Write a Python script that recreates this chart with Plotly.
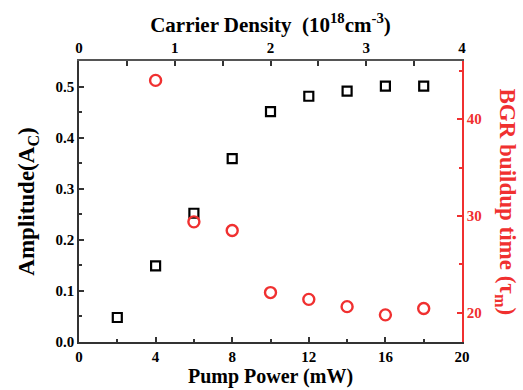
import plotly.graph_objects as go

pump_power = [2, 4, 6, 8, 10, 12, 14, 16, 18]
amplitude = [0.048, 0.149, 0.252, 0.359, 0.451, 0.481, 0.491, 0.501, 0.501]
bgr_power = [4, 6, 8, 10, 12, 14, 16, 18]
bgr_time = [44.0, 29.4, 28.5, 22.1, 21.4, 20.65, 19.8, 20.45]
density_ticks = [0, 1, 2, 3, 4]
pump_ticks = [0, 4, 8, 12, 16, 20]
amp_ticks = [0.0, 0.1, 0.2, 0.3, 0.4, 0.5]
bgr_ticks = [20, 30, 40]

RED = "#f03030"
FONT = "Liberation Serif"

fig = go.Figure()
fig.add_trace(go.Scatter(
    x=pump_power, y=amplitude, mode="markers",
    marker=dict(symbol="square-open", size=9, color="black", line=dict(width=2.2, color="black")),
    xaxis="x", yaxis="y", showlegend=False))
fig.add_trace(go.Scatter(
    x=bgr_power, y=bgr_time, mode="markers",
    marker=dict(symbol="circle-open", size=11, color=RED, line=dict(width=2.4, color=RED)),
    xaxis="x", yaxis="y2", showlegend=False))
fig.add_trace(go.Scatter(x=[0, 4], y=[0, 0], mode="markers", marker=dict(opacity=0),
                         xaxis="x2", yaxis="y", showlegend=False, hoverinfo="skip"))

def b(v, fmt):
    return ["<b>" + fmt.format(t) + "</b>" for t in v]

def f(size, color="black"):
    return dict(family=FONT, size=size, color=color)

fig.update_layout(
    template="none",
    width=523, height=390,
    margin=dict(l=79, r=61, t=61, b=48),
    plot_bgcolor="white", paper_bgcolor="white",
    font=f(15),
    xaxis=dict(range=[0, 20], tickvals=pump_ticks, ticktext=b(pump_ticks, "{}"), ticks="inside", ticklen=5,
               tickwidth=1.5, tickcolor="#333", showline=True, linecolor="#333", linewidth=1.5,
               minor=dict(tickvals=[2, 6, 10, 14, 18], ticks="inside", ticklen=3, tickcolor="#333"),
               showgrid=False, zeroline=False, tickfont=f(15),
               title=dict(text="<b>Pump Power (mW)</b>", font=f(20), standoff=5)),
    xaxis2=dict(range=[0, 4], overlaying="x", side="top", anchor="y", tickvals=density_ticks,
                ticktext=b(density_ticks, "{}"),
                ticks="inside", ticklen=5, tickwidth=1.5, tickcolor="#333", showline=True,
                linecolor="#555", linewidth=1.5,
                minor=dict(tickvals=[0.5, 1.5, 2.5, 3.5], ticks="inside", ticklen=5, tickcolor="#333"),
                showgrid=False, zeroline=False, tickfont=f(15),
                title=dict(text="<b>Carrier Density  (10<sup>18</sup>cm<sup>-3</sup>)</b>",
                           font=f(21), standoff=2)),
    yaxis=dict(range=[0, 0.55], tickvals=amp_ticks, ticktext=b(amp_ticks, "{:.1f}"),
               ticks="inside", ticklen=5, tickwidth=1.5, tickcolor="#333", showline=True,
               linecolor="#333", linewidth=1.5,
               minor=dict(tickvals=[0.05, 0.15, 0.25, 0.35, 0.45], ticks="inside", ticklen=3, tickcolor="#333"),
               showgrid=False, zeroline=False, tickfont=f(15),
               title=dict(text="<b>Amplitude(A<sub>C</sub>)</b>", font=f(23), standoff=14)),
    yaxis2=dict(range=[17, 46], tickvals=bgr_ticks, ticktext=b(bgr_ticks, "{}"), overlaying="y",
                side="right", anchor="x",
                ticks="inside", ticklen=5, tickwidth=1.5, tickcolor=RED, showline=True,
                linecolor=RED, linewidth=1.5,
                minor=dict(tickvals=[25, 35, 45], ticks="inside", ticklen=3, tickcolor=RED),
                showgrid=False, zeroline=False, tickfont=f(15, RED)),
    annotations=[dict(text="<b>BGR buildup time (τ<sub>m</sub>)</b>", textangle=90,
                      xref="paper", yref="paper", x=1.115, y=0.5, xanchor="center", yanchor="middle",
                      showarrow=False, font=f(23, RED))],
)

fig.write_html("out.html")
